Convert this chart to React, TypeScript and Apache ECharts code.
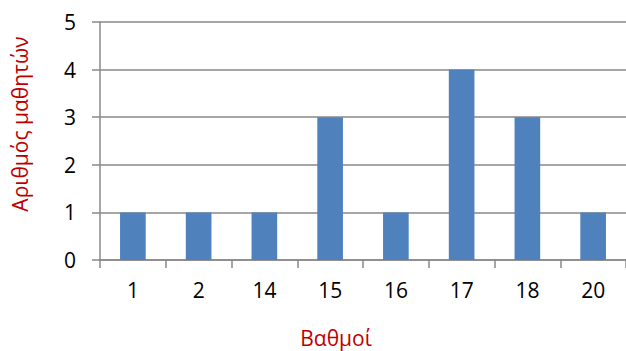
import React, { useEffect, useRef } from "react";
import * as echarts from "echarts";

const categories = ["1", "2", "14", "15", "16", "17", "18", "20"];
const counts = [1, 1, 1, 3, 1, 4, 3, 1];
const yTitle = "Αριθμός μαθητών";
const xTitle = "Βαθμοί";

export default function App() {
  const ref = useRef<HTMLDivElement>(null);
  useEffect(() => {
    if (!ref.current) return;
    const chart = echarts.init(ref.current, null, { renderer: "svg" });
    const font = "'Open Sans', 'Noto Sans', sans-serif";
    chart.setOption({
      animation: false,
      backgroundColor: "#ffffff",
      grid: { left: 100, top: 22, width: 530, height: 238, containLabel: false },
      xAxis: {
        type: "category",
        data: categories,
        axisLine: { show: true, lineStyle: { color: "#888888", width: 1.5 } },
        axisTick: { show: true, length: 8, lineStyle: { color: "#888888", width: 1.5 } },
        axisLabel: { color: "#000000", fontSize: 21, fontFamily: font, margin: 19 },
      },
      yAxis: {
        type: "value",
        min: 0,
        max: 5,
        interval: 1,
        axisLine: { show: true, lineStyle: { color: "#888888", width: 1.5 } },
        axisTick: { show: true, length: 8, lineStyle: { color: "#888888", width: 1.5 } },
        axisLabel: { color: "#000000", fontSize: 21, fontFamily: font, margin: 24 },
        splitLine: { show: true, lineStyle: { color: "#888888", width: 1.5 } },
      },
      series: [
        {
          type: "bar",
          data: counts,
          barWidth: "39%",
          itemStyle: { color: "#4F81BD" },
        },
      ],
      graphic: [
        {
          type: "text",
          x: 20,
          y: 124,
          rotation: Math.PI / 2,
          style: {
            text: yTitle,
            fill: "#C00000",
            fontSize: 21,
            fontFamily: font,
            align: "center",
            verticalAlign: "middle",
          },
        },
        {
          type: "text",
          x: 336,
          y: 338,
          style: {
            text: xTitle,
            fill: "#C00000",
            fontSize: 21,
            fontFamily: font,
            align: "center",
            verticalAlign: "middle",
          },
        },
      ],
    });
    return () => chart.dispose();
  }, []);
  return <div ref={ref} style={{ width: 626, height: 351, position: "absolute", left: 0, top: 0 }} />;
}
